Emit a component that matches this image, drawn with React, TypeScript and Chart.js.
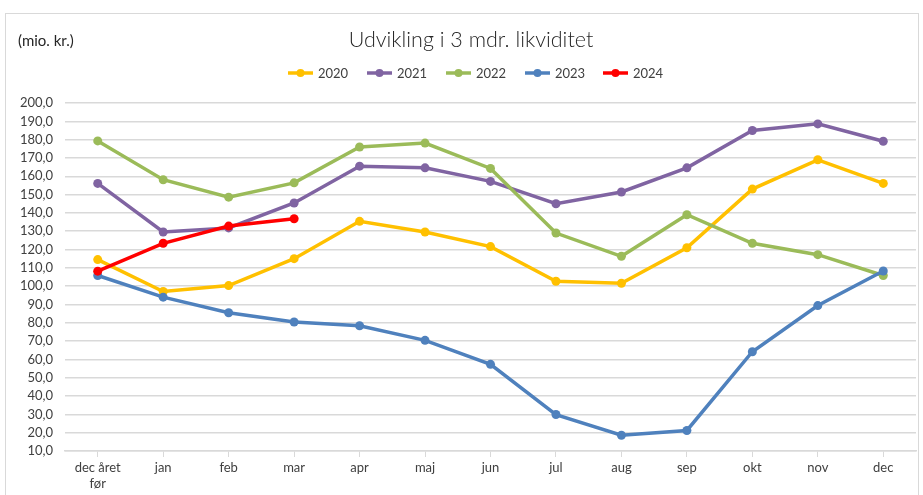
import React, { useEffect, useRef } from "react";
import { Chart, registerables } from "chart.js";

Chart.register(...registerables);

const categories: (string | string[])[] = [["dec året", "før"], "jan", "feb", "mar", "apr", "maj", "jun", "jul", "aug", "sep", "okt", "nov", "dec"];
const years = ["2020", "2021", "2022", "2023", "2024"];
const values2020 = [114.5, 97.1, 100.3, 115.0, 135.4, 129.6, 121.6, 102.7, 101.6, 121.0, 153.0, 169.0, 156.1];
const values2021 = [156.1, 129.6, 131.8, 145.4, 165.5, 164.6, 157.2, 145.0, 151.4, 164.6, 185.0, 188.6, 179.1];
const values2022 = [179.3, 158.1, 148.6, 156.4, 176.0, 178.1, 164.3, 129.0, 116.3, 139.0, 123.4, 117.2, 105.8];
const values2023 = [105.8, 94.0, 85.5, 80.4, 78.4, 70.4, 57.3, 29.9, 18.6, 21.2, 64.2, 89.4, 108.3];
const values2024 = [108.2, 123.4, 132.8, 136.8];
const colors = ["#FFC000", "#8064A2", "#9BBB59", "#4F81BD", "#FF0000"];
const title = "Udvikling i 3 mdr. likviditet";
const unitLabel = "(mio. kr.)";
const yMin = 10;
const yMax = 200;
const yStep = 10;

const FONT = "Lato, 'Open Sans', sans-serif";

export default function App() {
  const ref = useRef<HTMLCanvasElement | null>(null);
  useEffect(() => {
    if (!ref.current) return;
    const series = [values2020, values2021, values2022, values2023, values2024];
    const decor = {
      id: "decor",
      beforeDraw(chart: any) {
        const ctx = chart.ctx;
        ctx.save();
        ctx.fillStyle = "#ffffff";
        ctx.fillRect(0, 0, chart.width, chart.height);
        ctx.strokeStyle = "#d9d9d9";
        ctx.lineWidth = 1;
        ctx.strokeRect(5.5, 13.5, 913, 500);
        ctx.restore();
      },
      afterDraw(chart: any) {
        const ctx = chart.ctx;
        ctx.save();
        ctx.fillStyle = "#262626";
        ctx.textBaseline = "middle";
        ctx.textAlign = "center";
        ctx.font = `300 21.5px ${FONT}`;
        ctx.fillText(title, 471, 40);
        ctx.textAlign = "left";
        ctx.font = `15px ${FONT}`;
        ctx.fillText(unitLabel, 18, 41);
        // legend
        const starts = [288, 367, 446, 525, 603];
        ctx.font = `13px ${FONT}`;
        years.forEach((y, i) => {
          const x = starts[i];
          ctx.strokeStyle = colors[i];
          ctx.lineWidth = 3.5;
          ctx.beginPath();
          ctx.moveTo(x, 73);
          ctx.lineTo(x + 25, 73);
          ctx.stroke();
          ctx.fillStyle = colors[i];
          ctx.beginPath();
          ctx.arc(x + 12.5, 73, 4, 0, Math.PI * 2);
          ctx.fill();
          ctx.fillStyle = "#404040";
          ctx.fillText(y, x + 30, 73.5);
        });
        ctx.restore();
      },
    };
    const chart = new Chart(ref.current, {
      type: "line",
      data: {
        labels: categories,
        datasets: years.map((y, i) => ({
          label: y,
          data: series[i],
          borderColor: colors[i],
          backgroundColor: colors[i],
          borderWidth: 3.5,
          pointRadius: 4.5,
          pointBackgroundColor: colors[i],
          pointBorderColor: colors[i],
          pointBorderWidth: 0,
          tension: 0,
          fill: false,
          order: years.length - 1 - i,
        })),
      },
      options: {
        responsive: false,
        animation: false,
        layout: { padding: { top: 103, left: 0, right: 7, bottom: 0 } },
        plugins: {
          legend: { display: false },
          title: { display: false },
          tooltip: { enabled: false },
        },
        scales: {
          x: {
            offset: true,
            grid: {
              offset: false,
              drawOnChartArea: false,
              color: "#d9d9d9",
              tickLength: 6,
              lineWidth: 1,
            },
            border: { color: "#d9d9d9", width: 1.5 },
            ticks: {
              color: "#404040",
              font: { family: FONT, size: 13 },
              padding: 3,
              maxRotation: 0,
              autoSkip: false,
            },
            afterFit(s: any) {
              s.height = 44;
            },
          },
          y: {
            min: yMin,
            max: yMax,
            grid: { color: "#d9d9d9", lineWidth: 1.5, drawTicks: false },
            border: { display: false },
            ticks: {
              stepSize: yStep,
              autoSkip: false,
              color: "#404040",
              font: { family: FONT, size: 13 },
              padding: 12,
              callback: (v: any) => Number(v).toFixed(1).replace(".", ","),
            },
            afterFit(s: any) {
              s.width = 65;
            },
          },
        },
      },
      plugins: [decor],
    });
    return () => chart.destroy();
  }, []);
  return (
    <div style={{ position: "fixed", left: 0, top: 0, width: 923, height: 495, background: "#fff" }}>
      <canvas ref={ref} width={923} height={495} style={{ display: "block" }} />
    </div>
  );
}
